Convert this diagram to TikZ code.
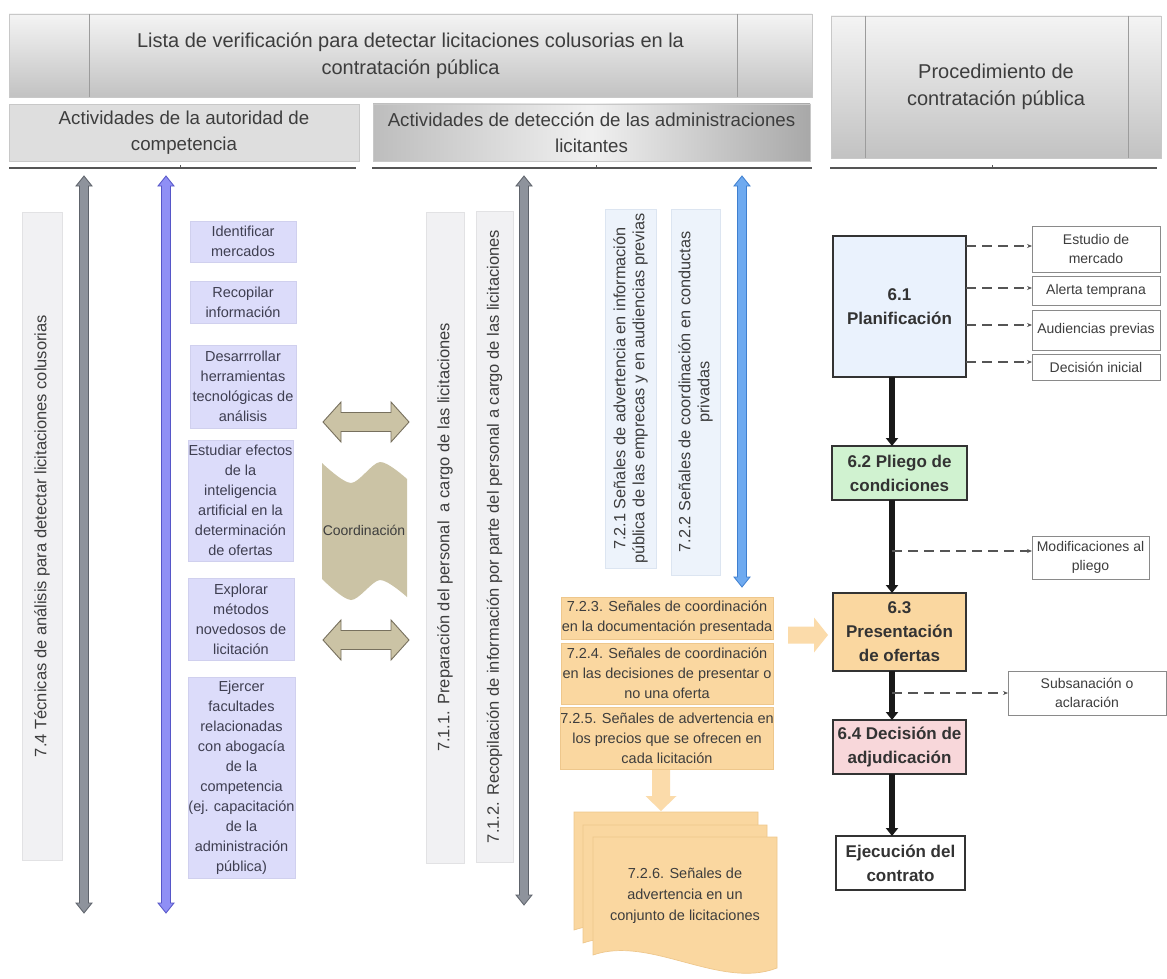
\documentclass[tikz,border=0pt]{standalone}
\usepackage{fontspec}
\setmainfont{Liberation Sans}
\usetikzlibrary{arrows.meta}
\definecolor{txt}{HTML}{3D3D3D}
\definecolor{hdrTop}{HTML}{F4F4F4}
\definecolor{hdrBot}{HTML}{C2C2C2}
\definecolor{hdrEdge}{HTML}{C8C8C8}
\definecolor{hdrFlat}{HTML}{DEDEDE}
\definecolor{midL}{HTML}{BDBDBD}
\definecolor{midM}{HTML}{F0F0F0}
\definecolor{midR}{HTML}{A8A8A8}
\definecolor{panelLine}{HTML}{9C9C9C}
\definecolor{sepLine}{HTML}{555555}
\definecolor{barFill}{HTML}{F1F1F3}
\definecolor{barEdge}{HTML}{E2E2E4}
\definecolor{lavFill}{HTML}{DCDCFA}
\definecolor{lavEdge}{HTML}{D0D0EE}
\definecolor{lavTxt}{HTML}{3E3E50}
\definecolor{pbFill}{HTML}{EDF3FB}
\definecolor{pbEdge}{HTML}{DCE5F1}
\definecolor{orFill}{HTML}{FAD7A0}
\definecolor{orEdge}{HTML}{EEC78C}
\definecolor{orArrow}{HTML}{FBDBAA}
\definecolor{tanFill}{HTML}{CBC3A5}
\definecolor{tanEdge}{HTML}{77705E}
\definecolor{grayArr}{HTML}{8E939C}
\definecolor{grayArrE}{HTML}{5E636B}
\definecolor{bluArr}{HTML}{8F8FF5}
\definecolor{bluArrE}{HTML}{5656C8}
\definecolor{skyArr}{HTML}{6EAAF0}
\definecolor{skyArrE}{HTML}{3F7FCF}
\definecolor{planFill}{HTML}{EAF2FD}
\definecolor{greenFill}{HTML}{D0F2D0}
\definecolor{pinkFill}{HTML}{F8D7DA}
\definecolor{boxEdge}{HTML}{333333}
\definecolor{sideEdge}{HTML}{8A8A8A}
\definecolor{dashCol}{HTML}{555555}

% vertical double arrow: style, x, ytop, ybot, shaft half, head half, head length
\newcommand\DblV[7]{\draw[#1] (#2,#3) -- ({#2+#6},{#3+#7}) -- ({#2+#5},{#3+#7}) -- ({#2+#5},{#4-#7}) -- ({#2+#6},{#4-#7}) -- (#2,#4) -- ({#2-#6},{#4-#7}) -- ({#2-#5},{#4-#7}) -- ({#2-#5},{#3+#7}) -- ({#2-#6},{#3+#7}) -- cycle;}
% horizontal double arrow: style, y, xleft, xright, shaft half, head half, head length
\newcommand\DblH[7]{\draw[#1] (#3,#2) -- ({#3+#7},{#2-#6}) -- ({#3+#7},{#2-#5}) -- ({#4-#7},{#2-#5}) -- ({#4-#7},{#2-#6}) -- (#4,#2) -- ({#4-#7},{#2+#6}) -- ({#4-#7},{#2+#5}) -- ({#3+#7},{#2+#5}) -- ({#3+#7},{#2+#6}) -- cycle;}
% single down arrow: style, x, ytop, ytip, shaft half, head half, head length
\newcommand\SglDown[7]{\draw[#1] ({#2-#5},#3) -- ({#2+#5},#3) -- ({#2+#5},{#4-#7}) -- ({#2+#6},{#4-#7}) -- (#2,#4) -- ({#2-#6},{#4-#7}) -- ({#2-#5},{#4-#7}) -- cycle;}
% single right arrow: style, y, xstart, xtip, shaft half, head half, head length
\newcommand\SglRight[7]{\draw[#1] (#3,{#2-#5}) -- ({#4-#7},{#2-#5}) -- ({#4-#7},{#2-#6}) -- (#4,#2) -- ({#4-#7},{#2+#6}) -- ({#4-#7},{#2+#5}) -- (#3,{#2+#5}) -- cycle;}

\begin{document}
\begin{tikzpicture}[x=1pt,y=-1pt,
  base/.style={inner sep=0pt, outer sep=0pt, align=center, text=txt},
  hdrA/.style={base, top color=hdrTop, bottom color=hdrBot, draw=hdrEdge, line width=0.8pt, font=\fontsize{20}{27}\selectfont},
  hdrL/.style={base, fill=hdrFlat, draw=hdrEdge, line width=0.8pt, font=\fontsize{18.7}{26}\selectfont},
  hdrM/.style={base, left color=midL, right color=midR, middle color=midM, draw=hdrEdge, line width=0.8pt, font=\fontsize{18.7}{26}\selectfont},
  panel/.style={panelLine, line width=0.8pt},
  sep/.style={sepLine, line width=1.5pt},
  bar/.style={base, fill=barFill, draw=barEdge, line width=0.8pt, font=\fontsize{16.5}{19}\selectfont},
  pblue/.style={base, fill=pbFill, draw=pbEdge, line width=0.8pt, font=\fontsize{16.3}{19}\selectfont},
  lav/.style={base, fill=lavFill, draw=lavEdge, line width=0.8pt, text=lavTxt, font=\fontsize{14.5}{20}\selectfont},
  orbox/.style={base, fill=orFill, draw=orEdge, line width=0.8pt, font=\fontsize{14.5}{20}\selectfont},
  grayarr/.style={fill=grayArr, draw=grayArrE, line width=0.8pt},
  bluearr/.style={fill=bluArr, draw=bluArrE, line width=0.8pt},
  skyarr/.style={fill=skyArr, draw=skyArrE, line width=0.8pt},
  tanarr/.style={fill=tanFill, draw=tanEdge, line width=0.9pt},
  orarr/.style={fill=orArrow, draw=none},
  docsh/.style={fill=orFill, draw=orEdge, line width=0.7pt},
  stage/.style={base, draw=boxEdge, line width=1.5pt, text=black!80, font=\fontsize{17}{24}\bfseries\selectfont},
  side/.style={base, draw=sideEdge, fill=white, line width=1pt, font=\fontsize{14}{19.5}\selectfont},
  thickarr/.style={line width=6pt, black!90, -{Triangle[width=12pt,length=8pt]}},
  dasharr/.style={dashCol, line width=1.2pt, dash pattern=on 10pt off 6pt, -{Stealth[length=5pt,width=4pt]}}
]
\useasboundingbox (0,0) rectangle (1167,979);
\fill[white] (0,0) rectangle (1167,979);

% ---------- headers ----------
\node[hdrA, minimum width=803, minimum height=83] (h1) at (410.5,55.5)
  {Lista de verificación para detectar licitaciones colusorias en la\\contratación pública};
\draw[panel] (89,14) -- (89,97);
\draw[panel] (737,14) -- (737,97);
\node[hdrL, minimum width=350, minimum height=57] (h2) at (184,132.5)
  {Actividades de la autoridad de\\competencia};
\node[hdrM, minimum width=437, minimum height=57] (h3) at (591.5,132.5)
  {Actividades de detección de las administraciones\\licitantes};
\node[hdrA, minimum width=330, minimum height=142] (h4) at (996,87)
  {Procedimiento de\\contratación pública};
\draw[panel] (865,16) -- (865,158);
\draw[panel] (1128,16) -- (1128,158);

\draw[sep] (9,168) -- (356,168);
\draw[sep] (372,168) -- (812,168);
\draw[sep] (830,168) -- (1157,168);
\draw[sepLine, line width=0.8pt] (180,168) -- (180,165);
\draw[sepLine, line width=0.8pt] (596,168) -- (596,165);
\draw[sepLine, line width=0.8pt] (992,168) -- (992,165);

% ---------- left column ----------
\node[bar, rotate=90, minimum width=648, minimum height=40] (t74) at (42,536)
  {7.4 Técnicas de análisis para detectar licitaciones colusorias};
\DblV{grayarr}{84}{176}{913}{4.5}{8}{10}
\DblV{bluearr}{166}{176}{913}{4.5}{8}{10}

\node[lav, minimum width=106, minimum height=41] (l1) at (243,241.5) {Identificar\\mercados};
\node[lav, minimum width=106, minimum height=42] (l2) at (243,302) {Recopilar\\información};
\node[lav, minimum width=106, minimum height=83] (l3) at (243,386.5) {Desarrrollar\\herramientas\\tecnológicas de\\análisis};
\node[lav, minimum width=105, minimum height=121] (l4) at (240.5,500.5) {Estudiar efectos\\de la\\inteligencia\\artificial en la\\determinación\\de ofertas};
\node[lav, minimum width=106, minimum height=82] (l5) at (241,619) {Explorar\\métodos\\novedosos de\\licitación};
\node[lav, minimum width=107, minimum height=201] (l6) at (241.5,777.5) {Ejercer\\facultades\\relacionadas\\con abogacía\\de la\\competencia\\(ej. capacitación\\de la\\administración\\pública)};

% coordination
\DblH{tanarr}{422}{323}{409}{9.5}{20}{18}
\DblH{tanarr}{640}{323}{409}{9.5}{20}{18}
\fill[tanFill] plot[smooth] coordinates {(322,463) (351,483) (380,462) (407,479)}
  -- plot[smooth] coordinates {(407,597) (380,580) (351,600) (322,579)} -- cycle;
\node[base, font=\fontsize{14}{18}\selectfont] (coord) at (364,530) {Coordinación};

% ---------- middle column ----------
\node[bar, rotate=90, minimum width=651, minimum height=38] (t711) at (445,537.5)
  {7.1.1. Preparación del personal~ a cargo de las licitaciones};
\node[bar, rotate=90, minimum width=651, minimum height=37] (t712) at (494.5,536.5)
  {7.1.2. Recopilación de información por parte del personal a cargo de las licitaciones};
\DblV{grayarr}{524}{176}{905}{4.5}{8}{10}

\node[pblue, rotate=90, minimum width=359, minimum height=51] (t721) at (630.5,388.5)
  {7.2.1 Señales de advertencia en información\\pública de las emprecas y en audiencias previas};
\node[pblue, rotate=90, minimum width=366, minimum height=49] (t722) at (695.5,392)
  {7.2.2 Señales de coordinación en conductas\\privadas};
\DblV{skyarr}{742}{176}{587}{4.5}{8}{10}

\node[orbox, minimum width=212, minimum height=42] (o723) at (667,618)
  {7.2.3. Señales de coordinación\\en la documentación presentada};
\node[orbox, minimum width=212, minimum height=61] (o724) at (667,673.5)
  {7.2.4. Señales de coordinación\\en las decisiones de presentar o\\no una oferta};
\node[orbox, minimum width=212, minimum height=62] (o725) at (667,738)
  {7.2.5. Señales de advertencia en\\los precios que se ofrecen en\\cada licitación};

\SglDown{orarr}{661}{770}{811}{9}{15.5}{15}
\SglRight{orarr}{635}{788}{828}{8.5}{17.5}{14}

% multi-document
\draw[docsh] (574,812) -- (758,812) -- (758,943) .. controls (701,965) and (631,910) .. (574,930) -- cycle;
\draw[docsh] (583,825) -- (767,825) -- (767,956) .. controls (710,978) and (640,923) .. (583,943) -- cycle;
\draw[docsh] (593,837) -- (777,837) -- (777,968) .. controls (720,990) and (650,935) .. (593,955) -- cycle;
\node[base, font=\fontsize{14.5}{21}\selectfont] (d726) at (685,896)
  {7.2.6. Señales de\\advertencia en un\\conjunto de licitaciones};

% ---------- right column ----------
\node[stage, fill=planFill, minimum width=133, minimum height=141] (p61) at (899.5,306.5) {6.1\\Planificación};
\node[stage, fill=greenFill, minimum width=135, minimum height=54] (p62) at (899.5,473) {6.2 Pliego de\\condiciones};
\node[stage, fill=orFill, minimum width=133, minimum height=78] (p63) at (899.5,632) {6.3\\Presentación\\de ofertas};
\node[stage, fill=pinkFill, minimum width=133, minimum height=54] (p64) at (899.5,747) {6.4 Decisión de\\adjudicación};
\node[stage, fill=white, minimum width=129, minimum height=54] (p65) at (900.5,863) {Ejecución del\\contrato};

\node[side, minimum width=128, minimum height=46] (s1) at (1096,249) {Estudio de\\mercado};
\node[side, minimum width=128, minimum height=29] (s2) at (1096,290.5) {Alerta temprana};
\node[side, minimum width=128, minimum height=40] (s3) at (1096,330) {Audiencias previas};
\node[side, minimum width=128, minimum height=26] (s4) at (1096,367) {Decisión inicial};
\node[side, minimum width=117, minimum height=43] (s5) at (1090.5,557.5) {Modificaciones al\\pliego};
\node[side, minimum width=158, minimum height=44] (s6) at (1087,693) {Subsanación o\\aclaración};

\coordinate (ax) at (892,0);
\draw[thickarr] (p61.south -| ax) -- (p62.north -| ax);
\draw[thickarr] (p62.south -| ax) -- (p63.north -| ax);
\draw[thickarr] (p63.south -| ax) -- (p64.north -| ax);
\draw[thickarr] (p64.south -| ax) -- (p65.north -| ax);

\coordinate (y1) at (0,246);
\coordinate (y2) at (0,288);
\coordinate (y3) at (0,325);
\coordinate (y4) at (0,362);
\coordinate (y5) at (892,551);
\coordinate (y6) at (892,693);
\draw[dasharr] (p61.east |- y1) -- (s1.west |- y1);
\draw[dasharr] (p61.east |- y2) -- (s2.west |- y2);
\draw[dasharr] (p61.east |- y3) -- (s3.west |- y3);
\draw[dasharr] (p61.east |- y4) -- (s4.west |- y4);
\draw[dasharr] (y5) -- (s5.west |- y5);
\draw[dasharr] (y6) -- (s6.west |- y6);
\end{tikzpicture}
\end{document}
